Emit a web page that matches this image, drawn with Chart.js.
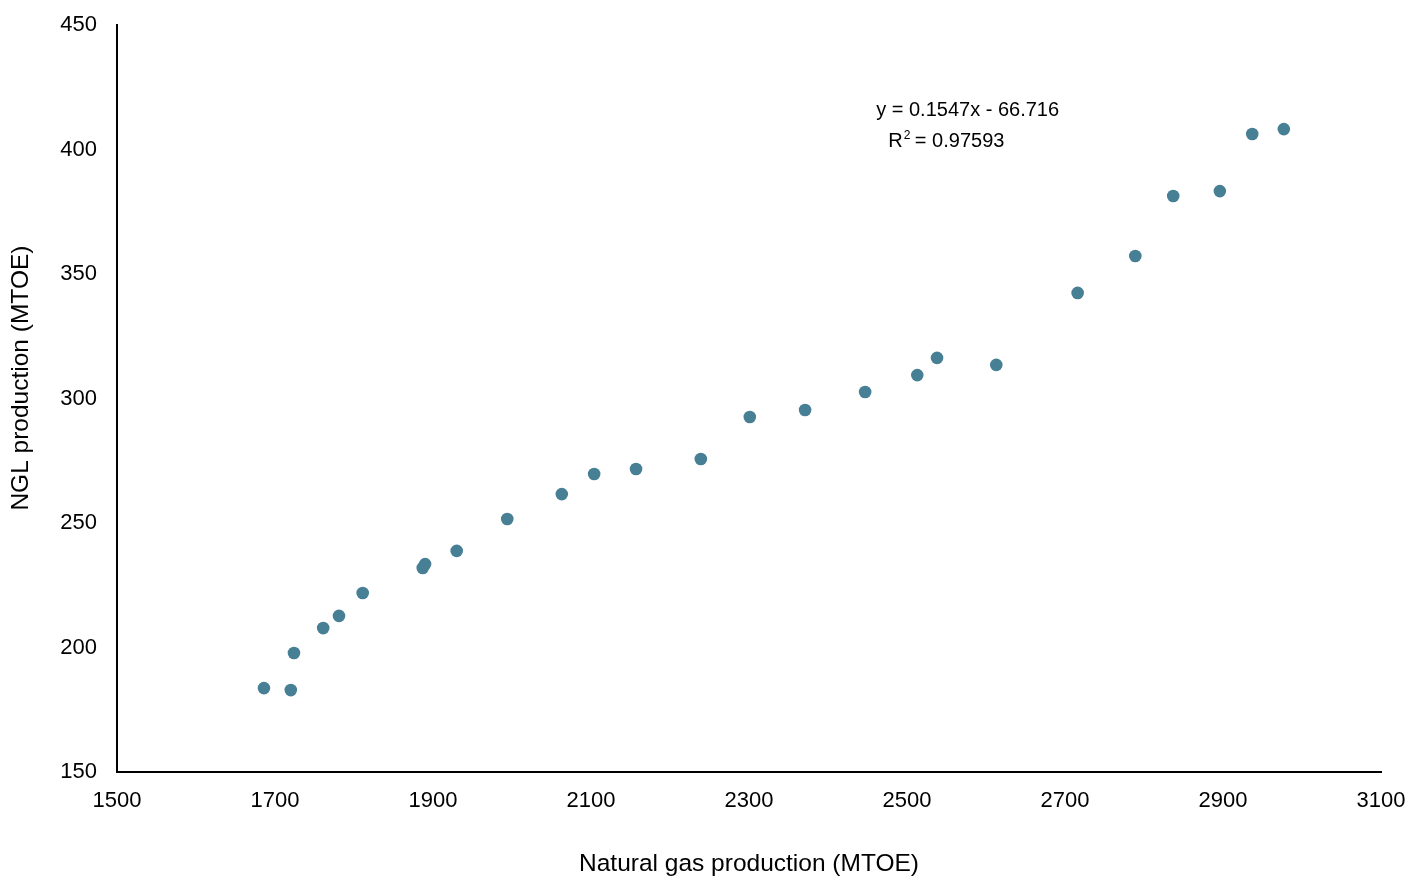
<!DOCTYPE html>
<html><head><meta charset="utf-8">
<script src="https://cdn.jsdelivr.net/npm/chart.js@4/dist/chart.umd.min.js"></script>
<style>html,body{margin:0;padding:0;background:#fff;}#wrap{width:1423px;height:878px;}</style>
</head><body><div id="wrap"><canvas id="c" width="1423" height="878"></canvas></div>
<script>
const gasProduction = [1686,1720,1724,1761,1781,1811,1887,1890,1930,1994,2063,2104,2157,2239,2301,2371,2447,2513,2538,2613,2716,2789,2837,2896,2937,2977];
const nglProduction = [183.7,182.9,197.8,207.8,212.7,221.9,231.9,233.5,238.8,251.6,261.6,269.7,271.7,275.7,292.6,295.4,302.6,309.4,316.3,313.5,342.4,357.2,381.3,383.3,406.2,408.2];
const xRange = [1500, 3100];
const yRange = [150, 450];
const equationText = "y = 0.1547x - 66.716";
const r2Text = "0.97593";
const labelAnchor = {x: 2461, y: 415.5};

const points = gasProduction.map((x,i)=>({x:x, y:nglProduction[i]}));
const FONT = "'Liberation Sans', Arial, Helvetica, sans-serif";

const annotationPlugin = {
  id:'eqn',
  afterDatasetsDraw(chart){
    const {ctx, scales} = chart;
    const px = scales.x.getPixelForValue(labelAnchor.x);
    const py = scales.y.getPixelForValue(labelAnchor.y);
    ctx.save();
    ctx.fillStyle = '#000';
    ctx.textBaseline = 'middle';
    ctx.textAlign = 'left';
    ctx.font = '20px ' + FONT;
    ctx.fillText(equationText, px, py);
    let x2 = px + 12;
    const y2 = py + 31;
    ctx.fillText('R', x2, y2);
    x2 += ctx.measureText('R').width;
    ctx.font = '12px ' + FONT;
    ctx.fillText('2', x2 + 1, y2 - 6);
    x2 += ctx.measureText('2').width;
    ctx.font = '20px ' + FONT;
    ctx.fillText(' = ' + r2Text, x2, y2);
    ctx.restore();
  }
};

new Chart(document.getElementById('c'), {
  type:'scatter',
  data:{datasets:[{data:points, backgroundColor:'#477F95', borderColor:'#477F95', pointRadius:6.3, pointHoverRadius:6.3, borderWidth:0}]},
  options:{
    responsive:false, animation:false, devicePixelRatio:1,
    layout:{padding:{top:25, right:42, left:0, bottom:0}},
    plugins:{legend:{display:false}, tooltip:{enabled:false}},
    scales:{
      x:{type:'linear', min:xRange[0], max:xRange[1],
         afterFit(s){ s.height = 106; s.paddingLeft = 0; s.paddingRight = 0; },
         ticks:{stepSize:200, color:'#000', font:{family:FONT, size:22}, padding:16, maxRotation:0,
                callback:(v)=>String(v)},
         grid:{display:false, drawTicks:false},
         border:{color:'#000', width:2},
         title:{display:true, text:'Natural gas production (MTOE)', color:'#000', font:{family:FONT, size:24.5, lineHeight:1.1}, padding:{top:0, bottom:0}}
      },
      y:{type:'linear', min:yRange[0], max:yRange[1],
         afterFit(s){ s.width = 117; s.paddingTop = 0; s.paddingBottom = 0; },
         ticks:{stepSize:50, color:'#000', font:{family:FONT, size:22}, padding:20, callback:(v)=>String(v)},
         grid:{display:false, drawTicks:false},
         border:{color:'#000', width:2},
         title:{display:true, text:'      NGL production (MTOE)', color:'#000', font:{family:FONT, size:24.5}, padding:{top:7, bottom:0}}
      }
    }
  },
  plugins:[annotationPlugin]
});
</script></body></html>
